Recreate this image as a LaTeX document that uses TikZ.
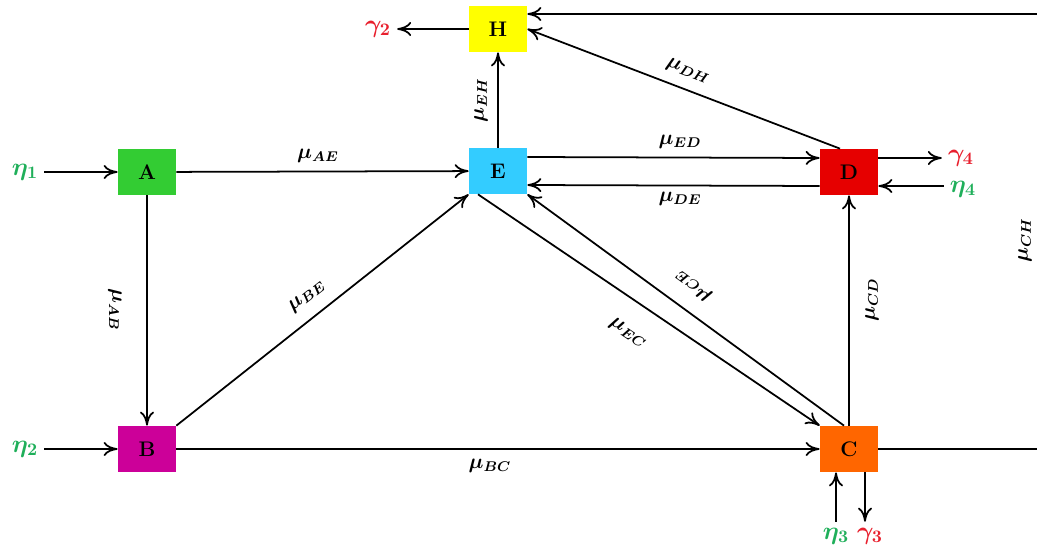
\documentclass[tikz,border=0pt]{standalone}
\usepackage{xcolor}
\usepackage{amsmath}
\usepackage{bm}
\usepackage{tikz}
\usetikzlibrary{arrows.meta}
\definecolor{StA}{HTML}{33CC33}
\definecolor{StB}{HTML}{CC0099}
\definecolor{StC}{HTML}{FF6600}
\definecolor{StD}{HTML}{E60000}
\definecolor{StE}{HTML}{33CCFF}
\definecolor{StH}{HTML}{FFFF00}
\definecolor{InGreen}{HTML}{1FAF5A}
\definecolor{OutRed}{HTML}{E8202E}
\tikzset{
  state/.style={minimum width=1.16cm,minimum height=0.92cm,inner sep=0pt,font=\large\bfseries},
  flow/.style={-{To[length=2.8mm,width=2.8mm]},line width=1pt},
  rate/.style={font=\large,inner sep=1pt},
  inflow/.style={text=InGreen,font=\Large},
  outflow/.style={text=OutRed,font=\Large}
}
\begin{document}
\begin{tikzpicture}[x=1cm,y=1cm]
\useasboundingbox (0,0) rectangle (20.74,10.96);
\clip (0,0) rectangle (20.74,10.96);
% compartments
\node[state,fill=StA] (A) at (2.94,7.52) {A};
\node[state,fill=StB] (B) at (2.94,1.98) {B};
\node[state,fill=StE] (E) at (9.96,7.54) {E};
\node[state,fill=StH] (H) at (9.96,10.38) {H};
\node[state,fill=StD] (D) at (16.98,7.52) {D};
\node[state,fill=StC] (C) at (16.98,1.98) {C};
% sources and sinks
\node[inflow] (eta1) at (0.5,7.52) {$\bm{\eta_1}$};
\node[inflow] (eta2) at (0.5,1.98) {$\bm{\eta_2}$};
\node[inflow] (eta3) at (16.72,0.24) {$\bm{\eta_3}$};
\node[inflow] (eta4) at (19.26,7.18) {$\bm{\eta_4}$};
\node[outflow] (gam2) at (7.56,10.38) {$\bm{\gamma_2}$};
\node[outflow] (gam3) at (17.40,0.24) {$\bm{\gamma_3}$};
\node[outflow] (gam4) at (19.22,7.80) {$\bm{\gamma_4}$};
\coordinate (CHr) at (21.0,0);
% transfers
\draw[flow] (eta1) -- (A);
\draw[flow] (eta2) -- (B);
\draw[flow] (A) -- (E);
\draw[flow] (A) -- (B);
\draw[flow] (B.north east) -- (E.south west);
\draw[flow] (B) -- (C);
\draw[flow] (E) -- (H);
\draw[flow] ([yshift=0.28cm]E.east) -- ([yshift=0.28cm]D.west);
\draw[flow] ([yshift=-0.28cm]D.west) -- ([yshift=-0.28cm]E.east);
\draw[flow] ([xshift=-0.4cm]E.south) -- (C.north west);
\draw[flow] ([xshift=-0.1cm]C.north) -- (E.south east);
\draw[flow] (C) -- (D);
\draw[flow] ([xshift=-0.18cm]D.north) -- (H.east);
\draw[flow] ([yshift=0.28cm]D.east) -- ([yshift=0.28cm]D.east -| gam4.west);
\draw[flow] ([yshift=-0.28cm]D.east -| eta4.west) -- ([yshift=-0.28cm]D.east);
\draw[flow] (H) -- (gam2);
\draw[flow] (eta3.north) -- (eta3.north |- C.south);
\draw[flow] ([xshift=-0.1cm]gam3.north |- C.south) -- ([xshift=-0.1cm]gam3.north);
\draw[flow] (C.east) -- (C.east -| CHr) |- ([yshift=0.3cm]H.east);
% rates
\node[rate] (rAE) at (6.36,7.84) {$\bm{\mu_{AE}}$};
\node[rate,rotate=-90] (rAB) at (2.30,4.76) {$\bm{\mu_{AB}}$};
\node[rate,rotate=38] (rBE) at (6.14,5.04) {$\bm{\mu_{BE}}$};
\node[rate] (rBC) at (9.80,1.64) {$\bm{\mu_{BC}}$};
\node[rate,rotate=90] (rEH) at (9.62,8.96) {$\bm{\mu_{EH}}$};
\node[rate] (rED) at (13.60,8.12) {$\bm{\mu_{ED}}$};
\node[rate] (rDE) at (13.60,6.98) {$\bm{\mu_{DE}}$};
\node[rate,rotate=-34] (rEC) at (12.56,4.30) {$\bm{\mu_{EC}}$};
\node[rate,rotate=144] (rCE) at (13.86,5.24) {$\bm{\mu_{CE}}$};
\node[rate,rotate=90] (rCD) at (17.44,4.96) {$\bm{\mu_{CD}}$};
\node[rate,rotate=-21] (rDH) at (13.76,9.54) {$\bm{\mu_{DH}}$};
\node[rate,rotate=90] (rCH) at (20.50,6.16) {$\bm{\mu_{CH}}$};
\end{tikzpicture}
\end{document}
